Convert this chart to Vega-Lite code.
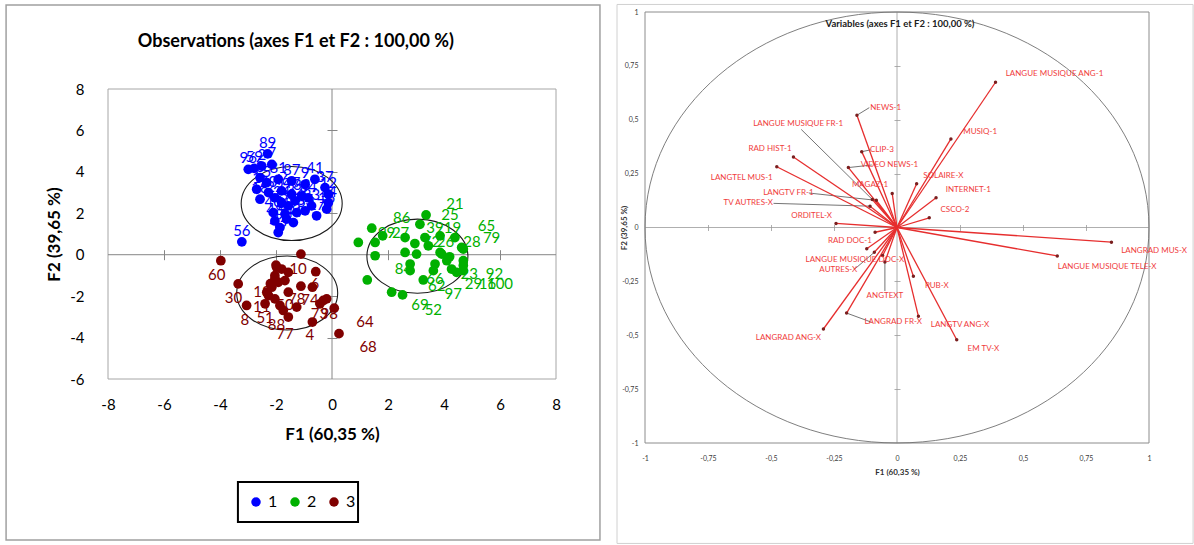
{
"$schema":"https://vega.github.io/schema/vega-lite/v6.json",
"width":1194,"height":545,"padding":0,"autosize":{"type":"none"},
"background":"white",
"config":{"view":{"stroke":null},"font":"Lato"},
"datasets":{
"obs":[
{"x":-2.30,"y":4.87,"c":"1","lab":"89"},{"x":-2.99,"y":4.12,"c":"1","lab":"96"},{"x":-2.78,"y":4.17,"c":"1","lab":"59"},{"x":-2.51,"y":4.28,"c":"1","lab":"2"},{"x":-2.15,"y":4.36,"c":"1","lab":"7"},{"x":-2.57,"y":3.72,"c":"1","lab":"3"},{"x":-2.33,"y":3.48,"c":"1","lab":"5"},{"x":-1.92,"y":3.64,"c":"1","lab":"81"},{"x":-1.44,"y":3.56,"c":"1","lab":"87"},{"x":-0.96,"y":3.40,"c":"1","lab":"9"},{"x":-0.61,"y":3.64,"c":"1","lab":"41"},{"x":-0.25,"y":3.24,"c":"1","lab":"37"},{"x":-0.13,"y":2.92,"c":"1","lab":"12"},{"x":-0.13,"y":2.51,"c":"1","lab":"14"},{"x":-0.19,"y":2.20,"c":"1","lab":"15"},{"x":-0.55,"y":1.88,"c":"1","lab":"17"},{"x":-2.69,"y":3.16,"c":"1","lab":"1"},{"x":-2.57,"y":2.68,"c":"1","lab":"18"},{"x":-2.27,"y":3.00,"c":"1","lab":"20"},{"x":-2.04,"y":2.75,"c":"1","lab":"22"},{"x":-1.80,"y":2.51,"c":"1","lab":"24"},{"x":-1.56,"y":2.36,"c":"1","lab":"31"},{"x":-1.32,"y":2.60,"c":"1","lab":"32"},{"x":-1.08,"y":2.84,"c":"1","lab":"33"},{"x":-0.85,"y":2.75,"c":"1","lab":"34"},{"x":-0.73,"y":2.36,"c":"1","lab":"83"},{"x":-0.96,"y":2.12,"c":"1","lab":"35"},{"x":-1.26,"y":2.03,"c":"1","lab":"36"},{"x":-1.68,"y":1.96,"c":"1","lab":"38"},{"x":-2.10,"y":2.03,"c":"1","lab":"40"},{"x":-2.04,"y":1.63,"c":"1","lab":"48"},{"x":-1.86,"y":1.31,"c":"1","lab":"42"},{"x":-1.92,"y":1.07,"c":"1","lab":"43"},{"x":-1.38,"y":1.55,"c":"1","lab":"44"},{"x":-1.62,"y":1.72,"c":"1","lab":"45"},{"x":-1.80,"y":3.08,"c":"1","lab":"46"},{"x":-1.44,"y":2.92,"c":"1","lab":"47"},{"x":-3.22,"y":0.62,"c":"1","lab":"56"},
{"x":3.36,"y":1.92,"c":"2","lab":""},{"x":3.14,"y":1.47,"c":"2","lab":""},{"x":1.42,"y":1.28,"c":"2","lab":""},{"x":1.81,"y":0.91,"c":"2","lab":""},{"x":0.94,"y":0.59,"c":"2","lab":""},{"x":1.54,"y":0.59,"c":"2","lab":""},{"x":2.61,"y":0.83,"c":"2","lab":""},{"x":2.96,"y":0.54,"c":"2","lab":""},{"x":3.32,"y":0.83,"c":"2","lab":""},{"x":3.44,"y":0.43,"c":"2","lab":""},{"x":3.86,"y":0.91,"c":"2","lab":""},{"x":4.39,"y":0.83,"c":"2","lab":""},{"x":4.63,"y":0.35,"c":"2","lab":""},{"x":1.54,"y":-0.05,"c":"2","lab":""},{"x":2.61,"y":0.11,"c":"2","lab":""},{"x":3.02,"y":0.03,"c":"2","lab":""},{"x":3.86,"y":0.11,"c":"2","lab":""},{"x":4.10,"y":-0.29,"c":"2","lab":""},{"x":4.69,"y":-0.29,"c":"2","lab":""},{"x":2.79,"y":-0.45,"c":"2","lab":""},{"x":3.68,"y":-0.45,"c":"2","lab":""},{"x":2.79,"y":-0.77,"c":"2","lab":""},{"x":3.62,"y":-0.77,"c":"2","lab":""},{"x":4.27,"y":-0.69,"c":"2","lab":""},{"x":4.69,"y":-0.77,"c":"2","lab":""},{"x":4.45,"y":-0.85,"c":"2","lab":""},{"x":1.26,"y":-1.22,"c":"2","lab":""},{"x":3.26,"y":-1.22,"c":"2","lab":""},{"x":2.13,"y":-1.81,"c":"2","lab":""},{"x":2.52,"y":-1.94,"c":"2","lab":""},{"x":3.92,"y":0.03,"c":"2","lab":""},{"x":4.69,"y":0.27,"c":"2","lab":""},{"x":4.69,"y":-0.52,"c":"2","lab":""},{"x":4.20,"y":-0.10,"c":"2","lab":""},
{"x":-1.11,"y":0.03,"c":"3","lab":""},{"x":-3.35,"y":-1.41,"c":"3","lab":""},{"x":-3.05,"y":-2.45,"c":"3","lab":""},{"x":-1.98,"y":-0.61,"c":"3","lab":""},{"x":-1.56,"y":-0.85,"c":"3","lab":""},{"x":-0.58,"y":-0.82,"c":"3","lab":""},{"x":-2.04,"y":-1.17,"c":"3","lab":""},{"x":-2.15,"y":-1.57,"c":"3","lab":""},{"x":-1.92,"y":-1.33,"c":"3","lab":""},{"x":-1.68,"y":-1.25,"c":"3","lab":""},{"x":-2.27,"y":-1.97,"c":"3","lab":""},{"x":-2.04,"y":-2.13,"c":"3","lab":""},{"x":-2.39,"y":-2.37,"c":"3","lab":""},{"x":-1.56,"y":-1.81,"c":"3","lab":""},{"x":-1.11,"y":-1.52,"c":"3","lab":""},{"x":-0.70,"y":-1.57,"c":"3","lab":""},{"x":-1.74,"y":-2.69,"c":"3","lab":""},{"x":-1.56,"y":-3.01,"c":"3","lab":""},{"x":-1.86,"y":-2.45,"c":"3","lab":""},{"x":-0.31,"y":-2.21,"c":"3","lab":""},{"x":-0.19,"y":-2.13,"c":"3","lab":""},{"x":-0.43,"y":-2.37,"c":"3","lab":""},{"x":0.08,"y":-2.58,"c":"3","lab":""},{"x":-0.70,"y":-3.25,"c":"3","lab":""},{"x":0.25,"y":-3.81,"c":"3","lab":""},{"x":-2.04,"y":-1.01,"c":"3","lab":""},{"x":-2.33,"y":-1.81,"c":"3","lab":""},{"x":-1.26,"y":-2.53,"c":"3","lab":""},{"x":-3.97,"y":-0.29,"c":"3","lab":""},{"x":-1.80,"y":-0.69,"c":"3","lab":""},{"x":-2.20,"y":-1.40,"c":"3","lab":""},{"x":-2.00,"y":-0.50,"c":"3","lab":""}
],
"obslab":[
{"lx":-4.12,"ly":-0.96,"t":"60","c":"3"},{"lx":-1.21,"ly":-0.67,"t":"10","c":"3"},{"lx":-3.52,"ly":-2.10,"t":"30","c":"3"},{"lx":-3.11,"ly":-3.14,"t":"8","c":"3"},{"lx":-2.39,"ly":-3.04,"t":"51","c":"3"},{"lx":-1.98,"ly":-3.37,"t":"88","c":"3"},{"lx":-1.68,"ly":-3.81,"t":"77","c":"3"},{"lx":-0.79,"ly":-3.89,"t":"4","c":"3"},{"lx":1.18,"ly":-3.25,"t":"64","c":"3"},{"lx":1.29,"ly":-4.46,"t":"68","c":"3"},{"lx":-1.26,"ly":-2.13,"t":"78","c":"3"},{"lx":-0.79,"ly":-2.21,"t":"74","c":"3"},{"lx":-0.61,"ly":-1.41,"t":"6","c":"3"},{"lx":-0.45,"ly":-2.85,"t":"73","c":"3"},{"lx":-0.10,"ly":-2.85,"t":"98","c":"3"},{"lx":-2.51,"ly":-2.53,"t":"11","c":"3"},{"lx":-1.68,"ly":-2.45,"t":"50","c":"3"},{"lx":-2.50,"ly":-1.80,"t":"13","c":"3"},
{"lx":4.39,"ly":2.44,"t":"21","c":"2"},{"lx":4.21,"ly":1.92,"t":"25","c":"2"},{"lx":2.49,"ly":1.79,"t":"86","c":"2"},{"lx":3.68,"ly":1.31,"t":"39","c":"2"},{"lx":4.30,"ly":1.31,"t":"19","c":"2"},{"lx":1.95,"ly":1.07,"t":"99","c":"2"},{"lx":2.45,"ly":1.07,"t":"27","c":"2"},{"lx":5.52,"ly":1.39,"t":"65","c":"2"},{"lx":5.70,"ly":0.83,"t":"79","c":"2"},{"lx":5.00,"ly":0.59,"t":"28","c":"2"},{"lx":3.55,"ly":0.59,"t":"72","c":"2"},{"lx":4.05,"ly":0.59,"t":"26","c":"2"},{"lx":2.55,"ly":-0.69,"t":"84","c":"2"},{"lx":3.68,"ly":-1.17,"t":"66","c":"2"},{"lx":3.74,"ly":-1.49,"t":"62","c":"2"},{"lx":4.33,"ly":-1.89,"t":"97","c":"2"},{"lx":3.14,"ly":-2.45,"t":"69","c":"2"},{"lx":3.62,"ly":-2.69,"t":"52","c":"2"},{"lx":4.90,"ly":-0.93,"t":"23","c":"2"},{"lx":5.80,"ly":-0.93,"t":"92","c":"2"},{"lx":5.05,"ly":-1.41,"t":"29","c":"2"},{"lx":5.55,"ly":-1.41,"t":"16","c":"2"},{"lx":6.00,"ly":-1.41,"t":"100","c":"2"}
],
"ell":[{"cx":-1.44,"cy":2.47},{"cx":-1.6,"cy":-1.85},{"cx":3.05,"cy":-0.07}],
"vars":[
{"n":"LANGUE MUSIQUE ANG-1","f1":0.391,"f2":0.674,"lx":0.625,"ly":0.71,"o":0},
{"n":"LANGRAD MUS-X","f1":0.851,"f2":-0.068,"lx":1.02,"ly":-0.108,"o":0},
{"n":"LANGUE MUSIQUE TELE-X","f1":0.636,"f2":-0.132,"lx":0.834,"ly":-0.181,"o":0},
{"n":"MUSIQ-1","f1":0.214,"f2":0.411,"lx":0.33,"ly":0.445,"o":0},
{"n":"NEWS-1","f1":-0.159,"f2":0.521,"lx":-0.045,"ly":0.556,"o":0},
{"n":"LANGUE MUSIQUE FR-1","f1":-0.098,"f2":0.13,"lx":-0.392,"ly":0.481,"o":0},
{"n":"CLIP-3","f1":-0.14,"f2":0.352,"lx":-0.06,"ly":0.36,"o":0},
{"n":"VIDEO NEWS-1","f1":-0.193,"f2":0.278,"lx":-0.03,"ly":0.29,"o":0},
{"n":"RAD HIST-1","f1":-0.411,"f2":0.327,"lx":-0.504,"ly":0.366,"o":0},
{"n":"LANGTEL MUS-1","f1":-0.477,"f2":0.282,"lx":-0.616,"ly":0.231,"o":0},
{"n":"MAGAZ-1","f1":-0.019,"f2":0.158,"lx":-0.107,"ly":0.195,"o":0},
{"n":"LANGTV FR-1","f1":-0.082,"f2":0.126,"lx":-0.431,"ly":0.161,"o":0},
{"n":"TV AUTRES-X","f1":-0.107,"f2":0.099,"lx":-0.59,"ly":0.112,"o":0},
{"n":"ORDITEL-X","f1":-0.242,"f2":0.019,"lx":-0.339,"ly":0.053,"o":0},
{"n":"SOLAIRE-X","f1":0.078,"f2":0.203,"lx":0.184,"ly":0.239,"o":0},
{"n":"INTERNET-1","f1":0.155,"f2":0.138,"lx":0.283,"ly":0.172,"o":0},
{"n":"CSCO-2","f1":0.128,"f2":0.045,"lx":0.23,"ly":0.08,"o":0},
{"n":"RAD DOC-1","f1":-0.12,"f2":-0.099,"lx":-0.187,"ly":-0.064,"o":0},
{"n":"","f1":-0.087,"f2":-0.022,"lx":0,"ly":0,"o":0},
{"n":"LANGUE MUSIQUE DOC-X","f1":-0.057,"f2":-0.13,"lx":-0.167,"ly":-0.149,"o":0},
{"n":"AUTRES-X","f1":-0.09,"f2":-0.115,"lx":-0.233,"ly":-0.199,"o":0},
{"n":"ANGTEXT","f1":-0.048,"f2":-0.16,"lx":-0.048,"ly":-0.316,"o":0},
{"n":"PUB-X","f1":0.065,"f2":-0.226,"lx":0.158,"ly":-0.27,"o":0},
{"n":"LANGRAD FR-X","f1":-0.2,"f2":-0.397,"lx":-0.015,"ly":-0.44,"o":0},
{"n":"LANGTV ANG-X","f1":0.085,"f2":-0.412,"lx":0.25,"ly":-0.454,"o":0},
{"n":"EM TV-X","f1":0.237,"f2":-0.521,"lx":0.343,"ly":-0.564,"o":0},
{"n":"LANGRAD ANG-X","f1":-0.292,"f2":-0.471,"lx":-0.431,"ly":-0.513,"o":0}
],
"leads":[
{"ax":-0.38,"ay":0.455,"bx":-0.098,"by":0.13},
{"ax":-0.49,"ay":0.112,"bx":-0.107,"by":0.099},
{"ax":-0.35,"ay":0.16,"bx":-0.082,"by":0.126},
{"ax":-0.11,"ay":0.556,"bx":-0.159,"by":0.521},
{"ax":-0.105,"ay":0.36,"bx":-0.14,"by":0.352},
{"ax":-0.1,"ay":0.29,"bx":-0.193,"by":0.278},
{"ax":-0.048,"ay":-0.295,"bx":-0.048,"by":-0.16},
{"ax":-0.17,"ay":-0.195,"bx":-0.09,"by":-0.115},
{"ax":-0.1,"ay":-0.44,"bx":-0.2,"by":-0.397}
],
"lframe":[{"a":-8,"b":8,"c":-6,"d":8,"z":0}],
"lborder":[{"a":-11.64,"b":9.57,"c":12.06,"d":-13.77}],
"legbox":[{"a":-3.36,"b":0.93,"c":-10.97,"d":-12.90}],
"rframe":[{"a":-1,"b":1,"c":-1,"d":1,"z":0}],
"rborder":[{"a":-1.111,"b":1.175,"c":1.035,"d":-1.466}],
"titles":[{"x":-1.29,"y":10.27,"t":"Observations (axes F1 et F2 : 100,00 %)"}],
"rtitles":[{"x":0.012,"y":0.942,"t":"Variables (axes F1 et F2 : 100,00 %)"}]
},
"layer":[
{"data":{"name":"lborder"},"mark":{"type":"rect","filled":false,"color":"#a0a0a0","strokeWidth":1.5},
 "encoding":{"x":{"field":"a","type":"quantitative","scale":{"domain":[-8,8],"range":[108,556],"nice":false,"zero":false},"axis":null},"x2":{"field":"b"},
 "y":{"field":"c","type":"quantitative","scale":{"domain":[-6,8],"range":[379,89],"nice":false,"zero":false},"axis":null},"y2":{"field":"d"}}},
{"data":{"name":"legbox"},"mark":{"type":"rect","filled":false,"color":"#000000","strokeWidth":2},
 "encoding":{"x":{"field":"a","type":"quantitative","scale":{"domain":[-8,8],"range":[108,556],"nice":false,"zero":false},"axis":null},"x2":{"field":"b"},
 "y":{"field":"c","type":"quantitative","scale":{"domain":[-6,8],"range":[379,89],"nice":false,"zero":false},"axis":null},"y2":{"field":"d"}}},
{"data":{"name":"lframe"},"mark":{"type":"rect","filled":false,"color":"#a6a6a6","strokeWidth":1},
 "encoding":{"x":{"field":"a","type":"quantitative","scale":{"domain":[-8,8],"range":[108,556],"nice":false,"zero":false},
   "axis":{"orient":"bottom","offset":-166,"values":[-8,-6,-4,-2,0,2,4,6,8],"labelExpr":"toString(datum.value)","domain":false,"ticks":false,"tickSize":0,"grid":false,"labelPadding":18,"labelFontSize":15,"labelColor":"#000000","labelFont":"Lato","labelFlush":false,"labelOverlap":false,"title":"F1 (60,35 %)","titleFontSize":17,"titleFontWeight":"bold","titleFont":"Lato","titleColor":"#000000","titlePadding":14}},
  "x2":{"field":"b"},
  "y":{"field":"c","type":"quantitative","scale":{"domain":[-6,8],"range":[379,89],"nice":false,"zero":false},
   "axis":{"orient":"left","offset":-108,"values":[-6,-4,-2,0,2,4,6,8],"labelExpr":"toString(datum.value)","domain":false,"ticks":false,"tickSize":0,"grid":false,"labelPadding":24,"labelFontSize":15,"labelColor":"#000000","labelFont":"Lato","labelFlush":false,"labelOverlap":false,"title":"F2 (39,65 %)","titleFontSize":17,"titleFontWeight":"bold","titleFont":"Lato","titleColor":"#000000","titlePadding":6}},
  "y2":{"field":"d"}}},
{"data":{"name":"lframe"},"mark":{"type":"rule","color":"#868686","strokeWidth":1},
 "encoding":{"x":{"field":"a","type":"quantitative","scale":{"domain":[-8,8],"range":[108,556],"nice":false,"zero":false},
   "axis":{"orient":"bottom","offset":-295.3,"values":[-6,-4,-2,2,4,6],"labels":false,"domain":false,"ticks":true,"tickSize":10,"tickColor":"#868686","grid":false,"title":null}},
  "x2":{"field":"b"},
  "y":{"field":"z","type":"quantitative","scale":{"domain":[-6,8],"range":[379,89],"nice":false,"zero":false},"axis":null}}},
{"data":{"name":"lframe"},"mark":{"type":"rule","color":"#868686","strokeWidth":1},
 "encoding":{"x":{"field":"z","type":"quantitative","scale":{"domain":[-8,8],"range":[108,556],"nice":false,"zero":false},"axis":null},
  "y":{"field":"c","type":"quantitative","scale":{"domain":[-6,8],"range":[379,89],"nice":false,"zero":false},
   "axis":{"orient":"left","offset":-337,"values":[-4,-2,2,4,6],"labels":false,"domain":false,"ticks":true,"tickSize":10,"tickColor":"#868686","grid":false,"title":null}},
  "y2":{"field":"d"}}},
{"data":{"name":"ell"},"mark":{"type":"point","shape":"M1,0C1,0.405,0.552,0.733,0,0.733C-0.552,0.733,-1,0.405,-1,0C-1,-0.405,-0.552,-0.733,0,-0.733C0.552,-0.733,1,-0.405,1,0Z","size":10201,"filled":false,"color":"#1a1a1a","strokeWidth":1.1,"opacity":1},
 "encoding":{"x":{"field":"cx","type":"quantitative","scale":{"domain":[-8,8],"range":[108,556],"nice":false,"zero":false},"axis":null},
  "y":{"field":"cy","type":"quantitative","scale":{"domain":[-6,8],"range":[379,89],"nice":false,"zero":false},"axis":null}}},
{"data":{"name":"obs"},"mark":{"type":"circle","size":95,"opacity":1},
 "encoding":{"x":{"field":"x","type":"quantitative","scale":{"domain":[-8,8],"range":[108,556],"nice":false,"zero":false},"axis":null},
  "y":{"field":"y","type":"quantitative","scale":{"domain":[-6,8],"range":[379,89],"nice":false,"zero":false},"axis":null},
  "color":{"field":"c","type":"nominal","scale":{"domain":["1","2","3"],"range":["#0000ff","#00b000","#800000"]},
   "legend":{"orient":"none","legendX":248,"legendY":494,"direction":"horizontal","title":null,"symbolType":"circle","symbolSize":90,"labelFontSize":16,"labelFont":"Lato","labelColor":"#000000","padding":0,"columnPadding":9,"labelOffset":4}}}},
{"data":{"name":"obs"},"transform":[{"filter":"datum.lab != ''"}],"mark":{"type":"text","dy":-11,"fontSize":15,"font":"Lato"},
 "encoding":{"x":{"field":"x","type":"quantitative","scale":{"domain":[-8,8],"range":[108,556],"nice":false,"zero":false},"axis":null},
  "y":{"field":"y","type":"quantitative","scale":{"domain":[-6,8],"range":[379,89],"nice":false,"zero":false},"axis":null},
  "text":{"field":"lab","type":"nominal"},
  "color":{"field":"c","type":"nominal","legend":null}}},
{"data":{"name":"obslab"},"mark":{"type":"text","fontSize":15,"font":"Lato"},
 "encoding":{"x":{"field":"lx","type":"quantitative","scale":{"domain":[-8,8],"range":[108,556],"nice":false,"zero":false},"axis":null},
  "y":{"field":"ly","type":"quantitative","scale":{"domain":[-6,8],"range":[379,89],"nice":false,"zero":false},"axis":null},
  "text":{"field":"t","type":"nominal"},
  "color":{"field":"c","type":"nominal","legend":null}}},
{"data":{"name":"titles"},"mark":{"type":"text","fontSize":18,"fontWeight":"bold","font":"Lato","color":"#000000"},
 "encoding":{"x":{"field":"x","type":"quantitative","scale":{"domain":[-8,8],"range":[108,556],"nice":false,"zero":false},"axis":null},
  "y":{"field":"y","type":"quantitative","scale":{"domain":[-6,8],"range":[379,89],"nice":false,"zero":false},"axis":null},
  "text":{"field":"t","type":"nominal"}}},
{"data":{"name":"rborder"},"mark":{"type":"rect","filled":false,"color":"#d0d0d0","strokeWidth":1},
 "encoding":{"x":{"field":"a","type":"quantitative","scale":{"domain":[-1,1],"range":[645,1149],"nice":false,"zero":false},"axis":null},"x2":{"field":"b"},
  "y":{"field":"c","type":"quantitative","scale":{"domain":[-1,1],"range":[443,12],"nice":false,"zero":false},"axis":null},"y2":{"field":"d"}}},
{"data":{"name":"rframe"},"mark":{"type":"rect","filled":false,"color":"#8c8c8c","strokeWidth":1},
 "encoding":{"x":{"field":"a","type":"quantitative","scale":{"domain":[-1,1],"range":[645,1149],"nice":false,"zero":false},
   "axis":{"orient":"bottom","offset":-102,"values":[-1,-0.75,-0.5,-0.25,0,0.25,0.5,0.75,1],"labelExpr":"replace(toString(datum.value), '.', ',')","domain":false,"ticks":false,"tickSize":0,"grid":false,"labelPadding":11,"labelFontSize":7,"labelColor":"#404040","labelFont":"Lato","labelFlush":false,"labelOverlap":false,"title":"F1 (60,35 %)","titleFontSize":8,"titleFontWeight":"bold","titleFont":"Lato","titleColor":"#303030","titlePadding":7}},
  "x2":{"field":"b"},
  "y":{"field":"c","type":"quantitative","scale":{"domain":[-1,1],"range":[443,12],"nice":false,"zero":false},
   "axis":{"orient":"left","offset":-645,"values":[-1,-0.75,-0.5,-0.25,0,0.25,0.5,0.75,1],"labelExpr":"replace(toString(datum.value), '.', ',')","domain":false,"ticks":false,"tickSize":0,"grid":false,"labelPadding":7,"labelFontSize":7,"labelColor":"#404040","labelFont":"Lato","labelFlush":false,"labelOverlap":false,"title":"F2 (39,65 %)","titleFontSize":8,"titleFontWeight":"bold","titleFont":"Lato","titleColor":"#303030","titlePadding":-7}},
  "y2":{"field":"d"}}},
{"data":{"name":"rframe"},"mark":{"type":"rule","color":"#9a9a9a","strokeWidth":0.8},
 "encoding":{"x":{"field":"a","type":"quantitative","scale":{"domain":[-1,1],"range":[645,1149],"nice":false,"zero":false},
   "axis":{"orient":"bottom","offset":-320.5,"values":[-0.75,-0.5,-0.25,0.25,0.5,0.75],"labels":false,"domain":false,"ticks":true,"tickSize":6,"tickColor":"#9a9a9a","tickWidth":0.8,"grid":false,"title":null}},
  "x2":{"field":"b"},
  "y":{"field":"z","type":"quantitative","scale":{"domain":[-1,1],"range":[443,12],"nice":false,"zero":false},"axis":null}}},
{"data":{"name":"rframe"},"mark":{"type":"rule","color":"#9a9a9a","strokeWidth":0.8},
 "encoding":{"x":{"field":"z","type":"quantitative","scale":{"domain":[-1,1],"range":[645,1149],"nice":false,"zero":false},"axis":null},
  "y":{"field":"c","type":"quantitative","scale":{"domain":[-1,1],"range":[443,12],"nice":false,"zero":false},
   "axis":{"orient":"left","offset":-900,"values":[-0.75,-0.5,-0.25,0.25,0.5,0.75],"labels":false,"domain":false,"ticks":true,"tickSize":6,"tickColor":"#9a9a9a","tickWidth":0.8,"grid":false,"title":null}},
  "y2":{"field":"d"}}},
{"data":{"name":"rframe"},"mark":{"type":"point","shape":"M1,0C1,0.472,0.552,0.855,0,0.855C-0.552,0.855,-1,0.472,-1,0C-1,-0.472,-0.552,-0.855,0,-0.855C0.552,-0.855,1,-0.472,1,0Z","size":254016,"filled":false,"color":"#707070","strokeWidth":0.9,"opacity":1},
 "encoding":{"x":{"field":"z","type":"quantitative","scale":{"domain":[-1,1],"range":[645,1149],"nice":false,"zero":false},"axis":null},
  "y":{"field":"z","type":"quantitative","scale":{"domain":[-1,1],"range":[443,12],"nice":false,"zero":false},"axis":null}}},
{"data":{"name":"leads"},"mark":{"type":"rule","color":"#505050","strokeWidth":0.8},
 "encoding":{"x":{"field":"ax","type":"quantitative","scale":{"domain":[-1,1],"range":[645,1149],"nice":false,"zero":false},"axis":null},"x2":{"field":"bx"},
  "y":{"field":"ay","type":"quantitative","scale":{"domain":[-1,1],"range":[443,12],"nice":false,"zero":false},"axis":null},"y2":{"field":"by"}}},
{"data":{"name":"vars"},"mark":{"type":"rule","color":"#e62e2e","strokeWidth":1.3},
 "encoding":{"x":{"field":"o","type":"quantitative","scale":{"domain":[-1,1],"range":[645,1149],"nice":false,"zero":false},"axis":null},"x2":{"field":"f1"},
  "y":{"field":"o","type":"quantitative","scale":{"domain":[-1,1],"range":[443,12],"nice":false,"zero":false},"axis":null},"y2":{"field":"f2"}}},
{"data":{"name":"vars"},"mark":{"type":"circle","size":12,"color":"#7a1f1f","opacity":1},
 "encoding":{"x":{"field":"f1","type":"quantitative","scale":{"domain":[-1,1],"range":[645,1149],"nice":false,"zero":false},"axis":null},
  "y":{"field":"f2","type":"quantitative","scale":{"domain":[-1,1],"range":[443,12],"nice":false,"zero":false},"axis":null}}},
{"data":{"name":"vars"},"transform":[{"filter":"datum.n != ''"}],"mark":{"type":"text","fontSize":8,"font":"Lato","color":"#f03c3c"},
 "encoding":{"x":{"field":"lx","type":"quantitative","scale":{"domain":[-1,1],"range":[645,1149],"nice":false,"zero":false},"axis":null},
  "y":{"field":"ly","type":"quantitative","scale":{"domain":[-1,1],"range":[443,12],"nice":false,"zero":false},"axis":null},
  "text":{"field":"n","type":"nominal"}}},
{"data":{"name":"rtitles"},"mark":{"type":"text","fontSize":9.5,"fontWeight":"bold","font":"Lato","color":"#202020"},
 "encoding":{"x":{"field":"x","type":"quantitative","scale":{"domain":[-1,1],"range":[645,1149],"nice":false,"zero":false},"axis":null},
  "y":{"field":"y","type":"quantitative","scale":{"domain":[-1,1],"range":[443,12],"nice":false,"zero":false},"axis":null},
  "text":{"field":"t","type":"nominal"}}}
],
"resolve":{"scale":{"x":"independent","y":"independent"},"axis":{"x":"independent","y":"independent"}}
}
